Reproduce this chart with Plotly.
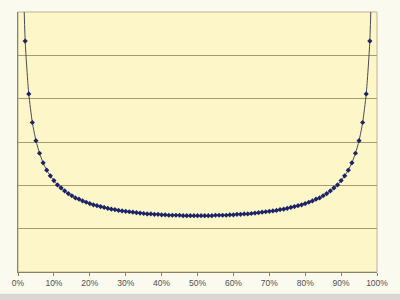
import plotly.graph_objects as go

pct = list(range(1, 100))
values_left = [8.49, 5.33, 4.11, 3.45, 3.03, 2.74, 2.52, 2.35, 2.22, 2.11,
               2.01, 1.94, 1.87, 1.81, 1.76, 1.71, 1.68, 1.64, 1.61, 1.58,
               1.55, 1.53, 1.51, 1.49, 1.47, 1.45, 1.44, 1.42, 1.41, 1.40,
               1.39, 1.38, 1.37, 1.36, 1.35, 1.34, 1.34, 1.33, 1.33, 1.32,
               1.32, 1.31, 1.31, 1.31, 1.31, 1.30, 1.30, 1.30, 1.30, 1.30]
values = values_left + values_left[-2::-1]
x_vals = [p / 100 for p in pct]

tick_vals = [i / 10 for i in range(11)]
tick_text = ["0%", "10%", "20%", "30%", "40%", "50%", "60%", "70%", "80%", "90%", "100%"]

fig = go.Figure()
fig.add_trace(go.Scatter(
    x=x_vals, y=values, mode="lines+markers",
    line=dict(color="#4a4a55", width=1, shape="spline", smoothing=0.6),
    marker=dict(symbol="diamond", size=4, color="#1c2468", line=dict(width=0)),
    cliponaxis=True, showlegend=False,
))

fig.update_layout(
    width=400, height=300,
    margin=dict(l=14, r=19, t=12, b=25),
    paper_bgcolor="#fbfaee",
    plot_bgcolor="#fdf6c8",
    xaxis=dict(
        range=[0, 1], tickvals=tick_vals, ticktext=tick_text,
        showgrid=False, zeroline=False,
        showline=True, linecolor="#8a8460", linewidth=1,
        ticks="outside", ticklen=3, tickcolor="#8a8460",
        tickfont=dict(family="Liberation Sans, Arial", size=8.5, color="#505050"),
    ),
    yaxis=dict(
        range=[0, 6], dtick=1, showticklabels=False,
        showgrid=True, gridcolor="#a39c70", gridwidth=1,
        zeroline=False,
        showline=True, linecolor="#8a8460", linewidth=1,
        ticks="",
    ),
)
fig.add_shape(type="rect", xref="paper", yref="paper", x0=0, y0=0, x1=1, y1=1,
              line=dict(color="#b8b498", width=1), fillcolor="rgba(0,0,0,0)", layer="below")
fig.add_shape(type="rect", xref="paper", yref="paper", x0=-0.1, x1=1.1, y0=-0.2, y1=-0.0837,
              line=dict(width=0), fillcolor="#d9d8d0", layer="below")

fig.write_html("out.html")
